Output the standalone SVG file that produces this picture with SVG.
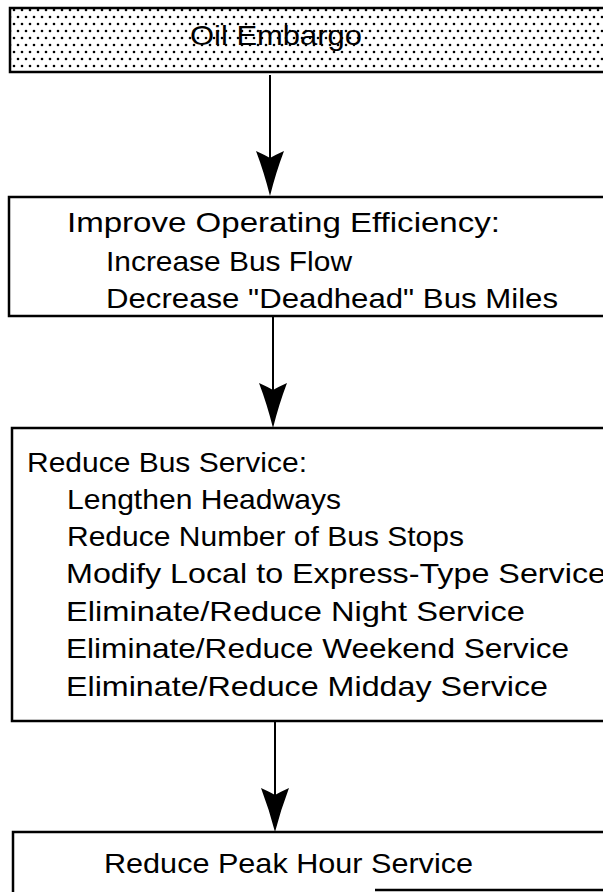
<svg xmlns="http://www.w3.org/2000/svg" width="603" height="892" viewBox="0 0 603 892">
<defs>
<pattern id="stipple" x="0" y="0" width="8" height="14" patternUnits="userSpaceOnUse">
<rect width="8" height="14" fill="#ffffff"/>
<circle cx="2" cy="3" r="1.3" fill="#000"/>
<circle cx="6" cy="10" r="1.3" fill="#000"/>
</pattern>
<marker id="head" markerWidth="30" markerHeight="46" refX="15" refY="44" orient="auto" markerUnits="userSpaceOnUse" viewBox="0 0 30 46">
<path d="M15,44 Q9,20 1,2 Q10,6 15,8 Q20,6 29,2 Q21,20 15,44 Z" fill="#000"/>
</marker>
<style>
.box{fill:#fff;stroke:#000;stroke-width:2.5}
.t{font-family:"Liberation Sans",Arial,sans-serif;font-size:28px;fill:#000}
.conn{stroke:#000;stroke-width:2;fill:none}
.ah{fill:#000}
</style>
</defs>
<rect width="603" height="892" fill="#fff"/>
<g id="connectors">
<line class="conn" x1="270" y1="75" x2="270" y2="160"/>
<path class="ah" d="M270,196 Q264,172 256,151 Q265,155 270,158 Q275,155 284,151 Q276,172 270,196 Z"/>
<line class="conn" x1="273" y1="316" x2="273" y2="392"/>
<path class="ah" d="M273,428 Q267,404 259,383 Q268,387 273,390 Q278,387 287,383 Q279,404 273,428 Z"/>
<line class="conn" x1="275" y1="721" x2="275" y2="795"/>
<path class="ah" d="M275,832 Q269,809 261,788 Q270,792 275,795 Q280,792 289,788 Q281,809 275,832 Z"/>
</g>
<g id="node-oil-embargo">
<rect x="10" y="8" width="620" height="64" fill="url(#stipple)" stroke="#000" stroke-width="2.5"/>
<text class="t" x="190" y="45" font-size="26" textLength="172" lengthAdjust="spacingAndGlyphs">Oil Embargo</text>
</g>
<g id="node-improve-efficiency">
<rect class="box" x="9" y="197" width="620" height="119"/>
<text class="t" x="67" y="232" textLength="433" lengthAdjust="spacingAndGlyphs">Improve Operating Efficiency:</text>
<text class="t" x="106" y="271" textLength="246" lengthAdjust="spacingAndGlyphs">Increase Bus Flow</text>
<text class="t" x="106" y="308" textLength="452" lengthAdjust="spacingAndGlyphs">Decrease "Deadhead" Bus Miles</text>
</g>
<g id="node-reduce-bus-service">
<rect class="box" x="12" y="428" width="620" height="293"/>
<text class="t" x="27" y="472" textLength="280" lengthAdjust="spacingAndGlyphs">Reduce Bus Service:</text>
<text class="t" x="67" y="509" textLength="274" lengthAdjust="spacingAndGlyphs">Lengthen Headways</text>
<text class="t" x="67" y="546" textLength="397" lengthAdjust="spacingAndGlyphs">Reduce Number of Bus Stops</text>
<text class="t" x="66" y="583" textLength="540" lengthAdjust="spacingAndGlyphs">Modify Local to Express-Type Service</text>
<text class="t" x="66" y="621" textLength="459" lengthAdjust="spacingAndGlyphs">Eliminate/Reduce Night Service</text>
<text class="t" x="66" y="658" textLength="503" lengthAdjust="spacingAndGlyphs">Eliminate/Reduce Weekend Service</text>
<text class="t" x="66" y="696" textLength="482" lengthAdjust="spacingAndGlyphs">Eliminate/Reduce Midday Service</text>
</g>
<g id="node-reduce-peak">
<path class="box" d="M13,900 L13,832 L620,832"/>
<line x1="375" y1="890" x2="620" y2="890" stroke="#000" stroke-width="2.5"/>
<text class="t" x="104" y="873" textLength="369" lengthAdjust="spacingAndGlyphs">Reduce Peak Hour Service</text>
</g>
</svg>
